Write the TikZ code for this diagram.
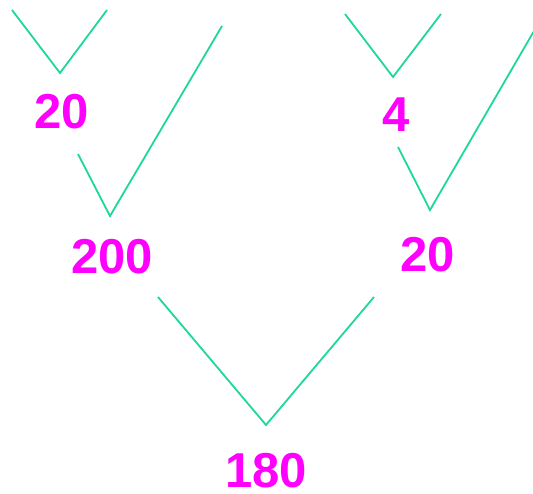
\documentclass[tikz,border=0pt]{standalone}
\usepackage{fontspec}
\setmainfont{Liberation Sans}
\definecolor{treeline}{RGB}{30,215,155}
\definecolor{numpink}{RGB}{255,0,255}
\begin{document}
\begin{tikzpicture}[
        x=1pt, y=-1pt,
        numlbl/.style={font=\fontsize{49}{49}\selectfont\bfseries, text=numpink, inner sep=0pt},
        branch/.style={draw=treeline, line width=1.8pt}
      ]
      \useasboundingbox (0,0) rectangle (533,493);
      % V shapes: left end / bottom / right end
      \foreach \ax/\ay/\bx/\by/\cx/\cy in {%
        12/10/60/73/107/10,
        78/154/110/216/222/26,
        345/14/393/77/441/14,
        398/147/430/210/534/31,
        158/297/266/425/374/297%
      }{
        \draw[branch] (\ax,\ay) -- (\bx,\by) -- (\cx,\cy);
      }
      \node[numlbl] (n20a) at (62,112) {20};
      \node[numlbl] (n200) at (112,257) {200};
      \node[numlbl] (n4) at (396,115) {4};
      \node[numlbl] (n20b) at (428,255) {20};
      \node[numlbl] (n180) at (266,471) {180};
    \end{tikzpicture}
\end{document}
